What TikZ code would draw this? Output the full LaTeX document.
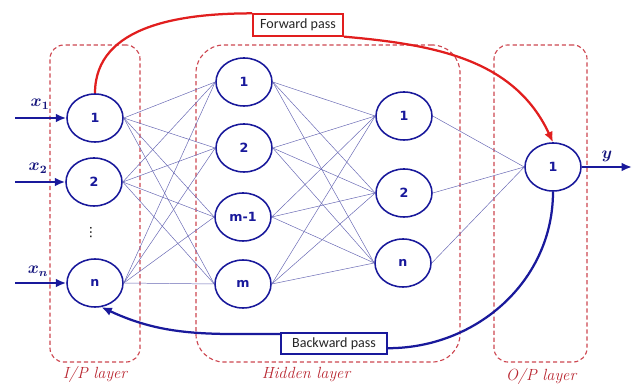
\documentclass[tikz,border=0pt]{standalone}
\usepackage{fontspec}
\usepackage{amsmath,bm}
\usepackage{xcolor}
\usetikzlibrary{arrows.meta, positioning, shapes.geometric}

\newfontfamily\numfont{DejaVu Sans}
\newfontfamily\passfont{Carlito}

\definecolor{nodeblue}{RGB}{25,25,155}
\definecolor{linkblue}{RGB}{105,105,180}
\definecolor{fwdred}{RGB}{225,30,30}
\definecolor{dashred}{RGB}{205,70,80}
\definecolor{labred}{RGB}{185,40,50}

\begin{document}
\begin{tikzpicture}[
  x=0.025cm, y=-0.025cm,
  neuron/.style={draw=nodeblue, ellipse, line width=1.1pt, fill=white,
                 minimum width=1.4cm, minimum height=1.2cm, inner sep=0pt,
                 text=nodeblue, font=\numfont\bfseries\fontsize{9}{10}\selectfont},
  layer/.style={draw=dashred, dash pattern=on 3pt off 2pt, line width=0.8pt,
                minimum height=7.925cm},
  laylab/.style={text=labred, font=\itshape\fontsize{11.5}{12}\selectfont},
  passbox/.style={fill=white, line width=1.2pt, minimum height=0.54cm, inner sep=0pt,
                  text=black!85, font=\passfont\fontsize{10}{11}\selectfont},
  xlab/.style={text=nodeblue!80!black, font=\fontsize{11.5}{12}\selectfont},
  link/.style={draw=linkblue, line width=0.35pt},
  arr/.style={-{Latex[length=2.6mm, width=2.2mm]}, draw=nodeblue, line width=1.5pt}
]
  \useasboundingbox (0,0) rectangle (639,386);

  % layer frames
  \node[layer, rounded corners=0.35cm, minimum width=2.25cm] (iplayer) at (95,203.5) {};
  \node[layer, rounded corners=0.7cm, minimum width=6.6cm] (hidlayer) at (328,203.5) {};
  \node[layer, rounded corners=0.35cm, minimum width=2.325cm] (oplayer) at (540.5,203.5) {};
  \node[laylab] (iplab) at (95,374) {I/P layer};
  \node[laylab] (hidlab) at (306,375) {Hidden layer};
  \node[laylab] (oplab) at (541,376) {O/P layer};

  % neurons
  \node[neuron] (in1) at (95,118) {1};
  \node[neuron] (in2) at (94,182) {2};
  \node[neuron] (inN) at (95,283) {n};
  \node[font=\numfont\fontsize{9}{10}\selectfont] (indots) at (91,233) {⋮};

  \node[neuron] (h1) at (244,82) {1};
  \node[neuron] (h2) at (244,148) {2};
  \node[neuron] (hm1) at (243,217) {m-1};
  \node[neuron] (hm) at (243,284) {m};

  \node[neuron] (g1) at (404,116) {1};
  \node[neuron] (g2) at (404,193) {2};
  \node[neuron] (gn) at (403,263) {n};

  \node[neuron] (out1) at (553,167) {1};

  % weights
  \foreach \a in {in1,in2,inN}
    \foreach \b in {h1,h2,hm1,hm}
      \draw[link] (\a.east) -- (\b.west);
  \foreach \a in {h1,h2,hm1,hm}
    \foreach \b in {g1,g2,gn}
      \draw[link] (\a.east) -- (\b.west);
  \foreach \a in {g1,g2,gn}
    \draw[link] (\a.east) -- (out1.west);

  % inputs and output
  \coordinate (x1s) at (15,118);
  \coordinate (x2s) at (15,182);
  \coordinate (xns) at (15,283);
  \coordinate (yend) at (632,167);
  \draw[arr] (x1s) -- (in1.west);
  \draw[arr] (x2s) -- (in2.west);
  \draw[arr] (xns) -- (inN.west);
  \draw[arr] (out1.east) -- (yend);
  \node[xlab] (x1lab) at (40,104) {$\bm{x_1}$};
  \node[xlab] (x2lab) at (38,168) {$\bm{x_2}$};
  \node[xlab] (xnlab) at (38,271) {$\bm{x_n}$};
  \node[xlab] (ylab) at (607,156) {$\bm{y}$};

  % forward and backward pass
  \node[passbox, draw=fwdred, minimum width=2.25cm] (fwd) at (298,25) {Forward pass};
  \node[passbox, draw=nodeblue, minimum width=2.65cm] (bwd) at (334,343.5) {Backward pass};
  \draw[fwdred, line width=1.6pt] (in1.north) to[out=90, in=180] (fwd.north west);
  \draw[arr, draw=fwdred, line width=1.6pt] (fwd.south east) to[out=-5, in=115] (out1.north);
  \draw[nodeblue, line width=1.6pt] (out1.south) to[out=-90, in=0] (bwd.-5);
  \draw[arr, line width=1.6pt] (bwd.170) to[out=180, in=-25] (inN.-75);
\end{tikzpicture}
\end{document}
